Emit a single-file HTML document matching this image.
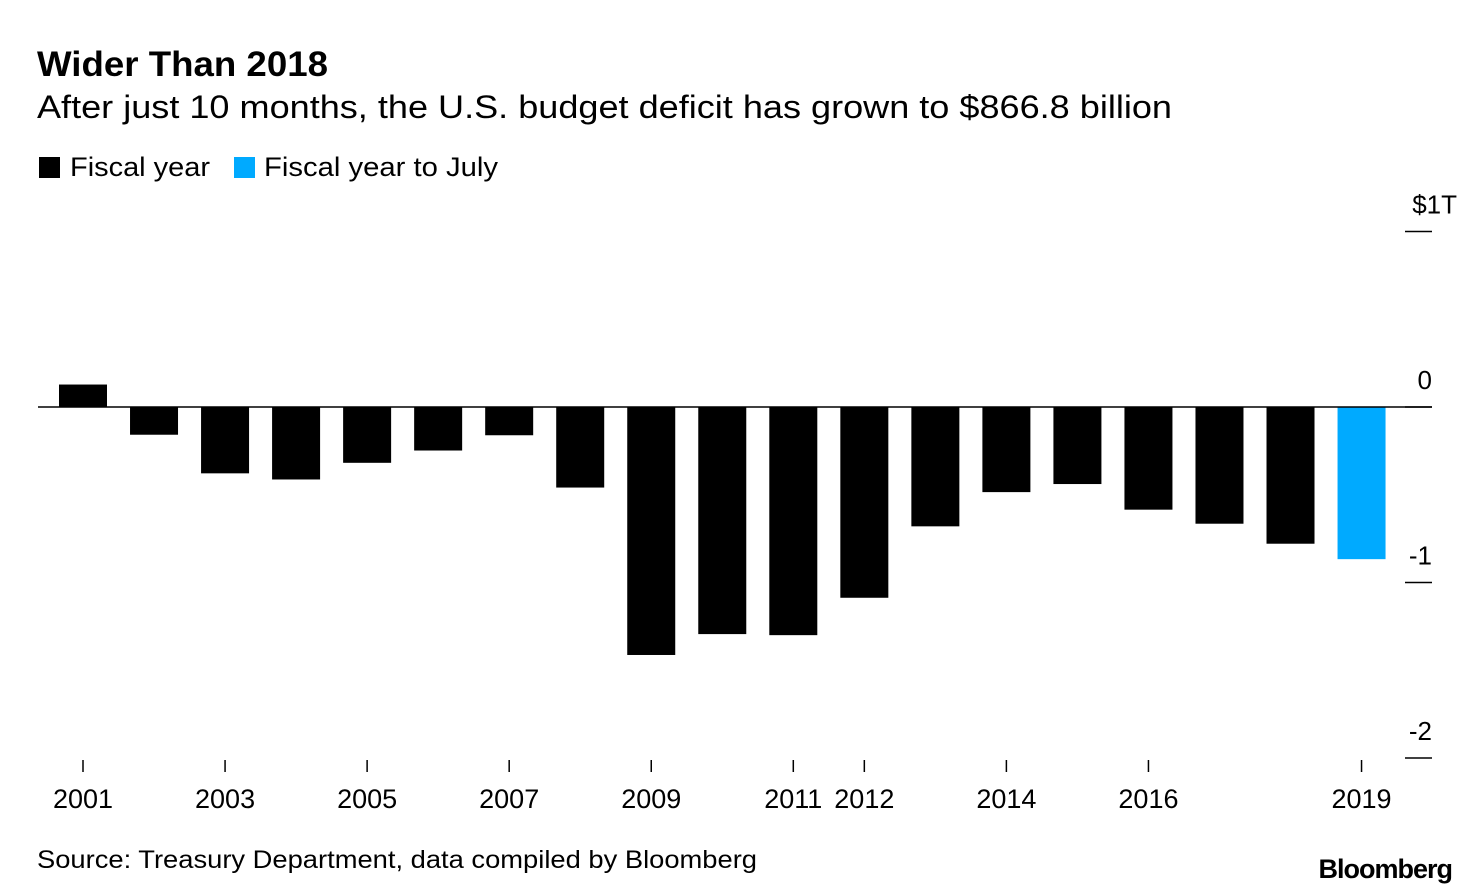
<!DOCTYPE html>
<html><head><meta charset="utf-8"><style>
body{margin:0;background:#fff;font-family:"Liberation Sans",sans-serif}
svg text{font-family:"Liberation Sans",sans-serif}
</style></head><body>
<svg width="1480" height="888">
<text x="37" y="76" font-size="35" font-weight="bold" textLength="291" lengthAdjust="spacingAndGlyphs">Wider Than 2018</text>
<text x="37" y="118" font-size="32" textLength="1135" lengthAdjust="spacingAndGlyphs">After just 10 months, the U.S. budget deficit has grown to $866.8 billion</text>
<g>
<rect x="39" y="157" width="21" height="21" fill="#000"/>
<text x="70" y="176" font-size="27" textLength="140" lengthAdjust="spacingAndGlyphs">Fiscal year</text>
<rect x="234" y="157" width="21" height="21" fill="#00aaff"/>
<text x="264" y="176" font-size="27" textLength="234" lengthAdjust="spacingAndGlyphs">Fiscal year to July</text>
</g>
<g id="plot"></g>
<text x="37" y="868" font-size="25" textLength="720" lengthAdjust="spacingAndGlyphs">Source: Treasury Department, data compiled by Bloomberg</text>
<text x="1452" y="878" font-size="27" font-weight="bold" text-anchor="end" letter-spacing="-1">Bloomberg</text>
</svg>
<script>
const years=[2001,2002,2003,2004,2005,2006,2007,2008,2009,2010,2011,2012,2013,2014,2015,2016,2017,2018,2019];
const values=[0.128,-0.158,-0.378,-0.413,-0.318,-0.248,-0.161,-0.459,-1.413,-1.294,-1.300,-1.087,-0.680,-0.485,-0.439,-0.585,-0.665,-0.779,-0.867];
const partial=[2019];
const yTicks=[1,0,-1,-2];
const yTickLabels=["$1T","0","-1","-2"];
const xTickYears=[2001,2003,2005,2007,2009,2011,2012,2014,2016,2019];
const NS="http://www.w3.org/2000/svg";
const g=document.getElementById('plot');
const x=yr=>83+(yr-2001)*71.03;
const y=v=>407-v*175.5;
function mk(t,a){const e=document.createElementNS(NS,t);for(const k in a)e.setAttribute(k,a[k]);g.appendChild(e);return e;}
years.forEach((yr,i)=>{const v=values[i];
const r=mk('rect',{x:x(yr)-24,y:Math.min(y(v),y(0)),width:48,height:Math.abs(y(v)-y(0)),fill:partial.includes(yr)?'#00aaff':'#000'});

});
const b=mk('line',{x1:38,x2:1432,y1:y(0),y2:y(0),stroke:'#000','stroke-width':1.5});


yTicks.forEach((v,i)=>{
const l=mk('line',{x1:1405,x2:1432,y1:y(v),y2:y(v),stroke:'#000','stroke-width':1.5});


const t=mk('text',{x:i==0?1457:1432,y:y(v)-18,'font-size':26,'text-anchor':'end'});t.textContent=yTickLabels[i];

});
xTickYears.forEach(yr=>{
const l=mk('line',{x1:x(yr),x2:x(yr),y1:760,y2:772,stroke:'#000','stroke-width':1.5});


const t=mk('text',{x:x(yr),y:808,'font-size':27,'text-anchor':'middle'});t.textContent=yr;

});
</script>
</body></html>
